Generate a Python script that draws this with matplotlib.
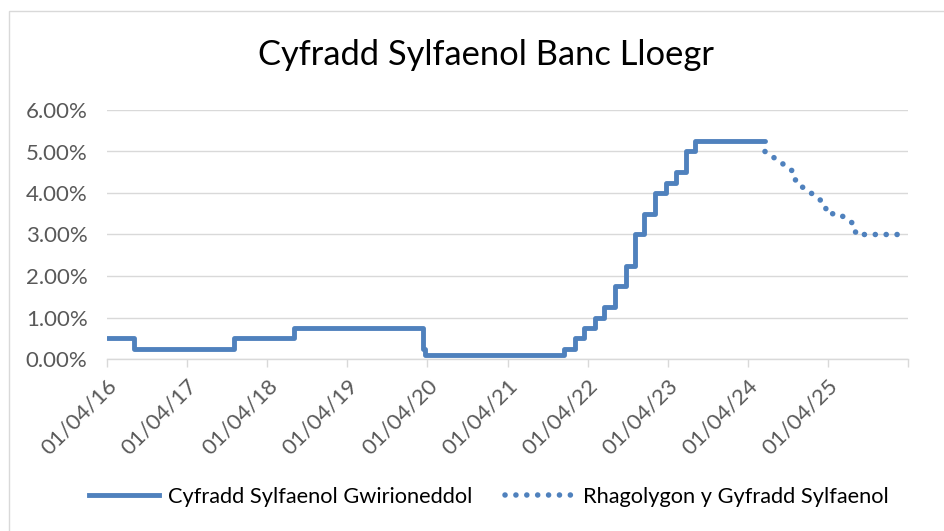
import matplotlib
matplotlib.use("Agg")
import matplotlib.pyplot as plt
from matplotlib.patches import Rectangle
from matplotlib.lines import Line2D
import datetime as dt

plt.rcParams['font.family'] = ['Lato', 'DejaVu Sans']

title = "Cyfradd Sylfaenol Banc Lloegr"
actual_label = "Cyfradd Sylfaenol Gwirioneddol"
forecast_label = "Rhagolygon y Gyfradd Sylfaenol"

# Actual base rate: change dates and values (step function)
actual_dates = ["2016-04-01", "2016-08-04", "2017-11-02", "2018-08-02", "2020-03-11",
                "2020-03-19", "2021-12-16", "2022-02-03", "2022-03-17", "2022-05-05",
                "2022-06-16", "2022-08-04", "2022-09-22", "2022-11-03", "2022-12-15",
                "2023-02-02", "2023-03-23", "2023-05-11", "2023-06-22", "2023-08-03",
                "2024-06-18"]
actual_values = [0.50, 0.25, 0.50, 0.75, 0.25, 0.10, 0.25, 0.50, 0.75, 1.00,
                 1.25, 1.75, 2.25, 3.00, 3.50, 4.00, 4.25, 4.50, 5.00, 5.25, 5.25]

# Forecast path
forecast_dates = ["2024-06-18", "2024-08-26", "2024-10-29", "2024-11-06", "2025-01-14",
                  "2025-03-17", "2025-03-28", "2025-05-21", "2025-07-29", "2025-08-07",
                  "2026-03-25"]
forecast_values = [5.00, 4.75, 4.50, 4.25, 4.00, 3.75, 3.50, 3.50, 3.25, 3.00, 3.00]

tick_dates = ["2016-04-01", "2017-04-01", "2018-04-01", "2019-04-01", "2020-04-01",
              "2021-04-01", "2022-04-01", "2023-04-01", "2024-04-01", "2025-04-01",
              "2026-04-01"]
tick_labels = ["01/04/16", "01/04/17", "01/04/18", "01/04/19", "01/04/20",
               "01/04/21", "01/04/22", "01/04/23", "01/04/24", "01/04/25", ""]

yticks = [0, 1, 2, 3, 4, 5, 6]

to_d = lambda s: dt.datetime.strptime(s, "%Y-%m-%d")
ad = [to_d(s) for s in actual_dates]
fd = [to_d(s) for s in forecast_dates]
td = [to_d(s) for s in tick_dates]

W, H = 944, 531
fig = plt.figure(figsize=(W / 100, H / 100), dpi=100)
fig.patch.set_facecolor("white")

# chart border
fig.patches.append(Rectangle((8.5 / W, -0.1), 1.2, 1 - 11 / H + 0.1, transform=fig.transFigure,
                             fill=False, edgecolor="#D9D9D9", linewidth=1.0))

ax = fig.add_axes([107 / W, (H - 359) / H, (908 - 107) / W, (359 - 110) / H])
blue = "#4F81BD"
grid = "#D9D9D9"
dots = (0, (0.01, 1.95))

ax.plot(ad, actual_values, drawstyle="steps-post", color=blue, linewidth=3.5,
        solid_joinstyle="round", solid_capstyle="round", zorder=3)
ax.plot(fd, forecast_values, color=blue, linewidth=4.0, linestyle=dots,
        dash_capstyle="round", zorder=3)

ax.set_xlim(td[0], td[-1])
ax.set_ylim(0, 6)
ax.set_yticks(yticks)
ax.set_yticklabels([f"{v:.2f}%" for v in yticks])
ax.set_xticks(td)
ax.set_xticklabels(tick_labels, rotation=45, ha="right", va="top", rotation_mode="anchor")

for s in ["top", "right", "left"]:
    ax.spines[s].set_visible(False)
ax.spines["bottom"].set_color(grid)
ax.spines["bottom"].set_linewidth(1.0)
ax.yaxis.grid(True, color=grid, linewidth=1.0)
ax.set_axisbelow(True)
ax.tick_params(axis="y", length=0, pad=14, labelsize=16, labelcolor="#595959")
ax.tick_params(axis="x", length=6, width=1.0, color=grid, direction="out", pad=6,
               labelsize=16, labelcolor="#595959")

fig.text(486 / W, 1 - 55 / H, title, ha="center", va="center", fontsize=24.8, color="black")

handles = [Line2D([], [], color=blue, linewidth=3.5),
           Line2D([], [], color=blue, linewidth=4.0, linestyle=dots, dash_capstyle="round")]
fig.legend(handles, [actual_label, forecast_label], loc="center",
           bbox_to_anchor=(489 / W, 1 - 497 / H), ncol=2, frameon=False, fontsize=15.7,
           handlelength=3.2, handletextpad=0.4, columnspacing=1.5)

fig.savefig("out.png", dpi=100, facecolor="white")
